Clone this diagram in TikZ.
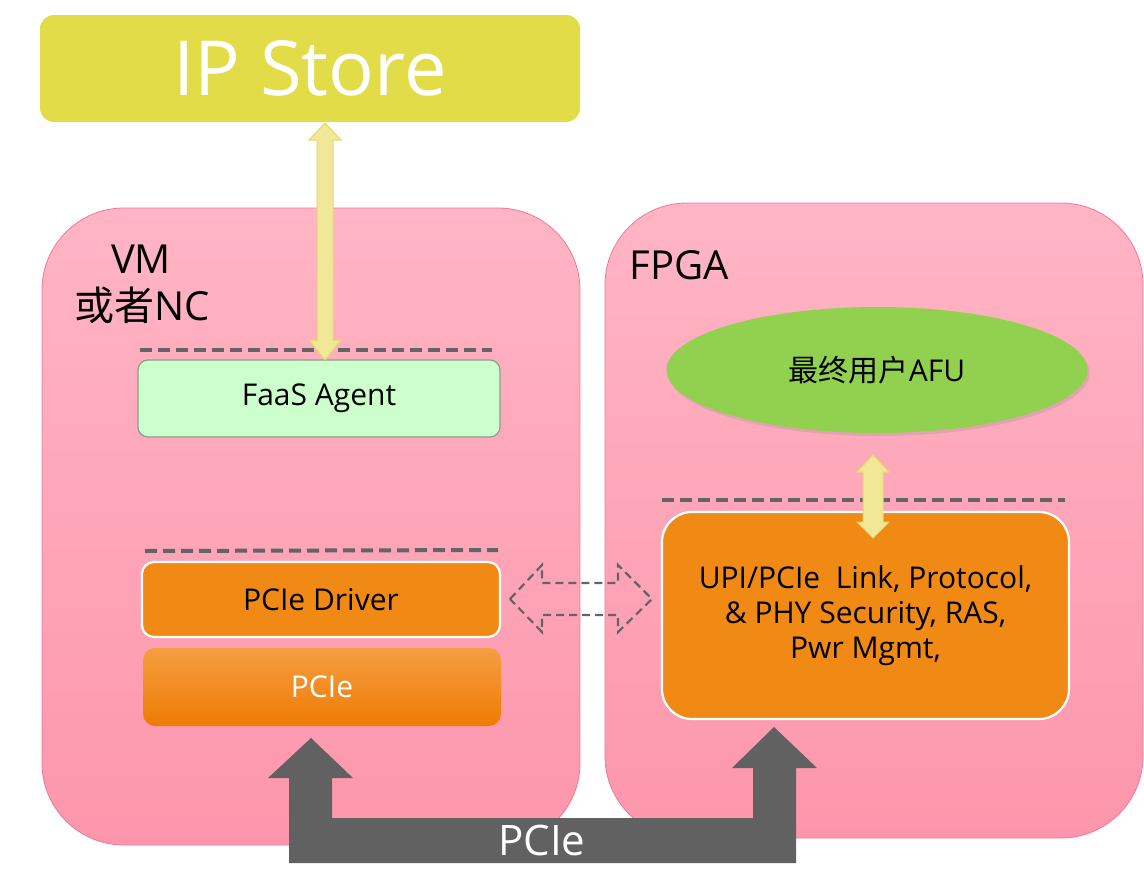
\documentclass[tikz,border=0pt]{standalone}
\usepackage{fontspec}
\setmainfont{Open Sans}
\newfontfamily\cjk{Noto Sans CJK SC}
\usetikzlibrary{shadows,shapes.geometric}
\definecolor{pinkT}{RGB}{255,181,197}
\definecolor{pinkB}{RGB}{253,150,172}
\definecolor{pinkE}{RGB}{240,120,150}
\definecolor{ipyel}{RGB}{226,220,72}
\definecolor{arryel}{RGB}{240,232,150}
\definecolor{arryelE}{RGB}{230,216,110}
\definecolor{orng}{RGB}{240,138,21}
\definecolor{orngT}{RGB}{246,158,66}
\definecolor{orngB}{RGB}{238,124,4}
\definecolor{mint}{RGB}{204,255,204}
\definecolor{mintE}{RGB}{140,156,140}
\definecolor{lgreen}{RGB}{146,208,80}
\definecolor{dgray}{RGB}{97,97,97}
\definecolor{dashgray}{RGB}{100,100,100}
\begin{document}
\begin{tikzpicture}[x=1pt,y=-1pt,
  box/.style={rectangle,inner sep=0pt,outer sep=0pt},
  pinkbox/.style={box,rounded corners=82pt,top color=pinkT,bottom color=pinkB,draw=pinkE,line width=0.8pt},
  orangebox/.style={box,fill=orng,draw=white,line width=2.2pt},
  sepline/.style={draw=dashgray,line width=4pt,dash pattern=on 12pt off 6pt},
  fatarrow/.style={fill=arryel,draw=arryelE,line width=1pt},
  hollowarrow/.style={draw=dashgray,line width=2.2pt,dash pattern=on 8pt off 5pt,line join=miter},
  label/.style={font=\fontsize{40}{48}\selectfont,text=black},
  boxtext/.style={font=\fontsize{30}{35}\selectfont}
]
\useasboundingbox (0,0) rectangle (1144,892);
\fill[white] (0,0) rectangle (1144,892);

% IP store
\node[box,rounded corners=14pt,fill=ipyel,minimum width=540pt,minimum height=107pt,
      text=white,font=\fontsize{76}{90}\selectfont] (ip) at (310,68.5) {IP Store};

% pink containers
\node[pinkbox,minimum width=538pt,minimum height=637pt] (vm) at (311,526.5) {};
\node[pinkbox,minimum width=538pt,minimum height=635pt] (fpga) at (874,520.5) {};

% titles
\node[label,anchor=base] (vmt) at (141,273) {VM};
\node[label,anchor=base] (nct) at (142,320) {{\cjk 或者}NC};
\node[label,anchor=base west] (fpgat) at (626,279) {FPGA};

% separators
\coordinate (s1a) at (140,350); \coordinate (s1b) at (492,350);
\coordinate (s2a) at (145,551); \coordinate (s2b) at (498,550);
\coordinate (s3a) at (662,500); \coordinate (s3b) at (1065,500);
\draw[sepline] (s1a) -- (s1b);
\draw[sepline] (s2a) -- (s2b);
\draw[sepline] (s3a) -- (s3b);

% left stack
\node[box,rounded corners=10pt,fill=mint,draw=mintE,line width=1.2pt,
      minimum width=362pt,minimum height=77pt,boxtext] (faas) at (319,398.5) {FaaS Agent};
\node[orangebox,rounded corners=12pt,minimum width=358pt,minimum height=75pt,
      boxtext] (drv) at (321,599.5) {PCIe Driver};
\node[box,rounded corners=12pt,top color=orngT,bottom color=orngB,
      minimum width=358pt,minimum height=78pt,text=white,boxtext] (pcie) at (322,687) {PCIe};

% right stack
\node[ellipse,inner sep=0pt,fill=lgreen,minimum width=421pt,minimum height=126pt,
      drop shadow={opacity=0.2,shadow xshift=2pt,shadow yshift=-3pt},
      boxtext] (afu) at (877,370) {{\cjk 最终用户}AFU};
\node[orangebox,rounded corners=30pt,minimum width=407pt,minimum height=207pt,
      align=center,boxtext] (upi) at (865.5,615.5)
      {UPI/PCIe\ \ Link, Protocol,\\ \& PHY Security, RAS,\\ Pwr Mgmt,};

% yellow double arrow IP store <-> FaaS agent
\path[fatarrow] (325,123) -- (341,140) -- (333,140) -- (333,340) -- (341,340) -- (325,360)
  -- (309,340) -- (317,340) -- (317,140) -- (309,140) -- cycle;
% yellow double arrow AFU <-> UPI
\path[fatarrow] (873,455) -- (889,472) -- (883,472) -- (883,522) -- (889,522) -- (873,538)
  -- (857,522) -- (863,522) -- (863,472) -- (857,472) -- cycle;

% hollow dashed double arrow driver <-> upi
\draw[hollowarrow] (510,599) -- (542,565) -- (542,583) -- (618,583) -- (618,565) -- (652,599)
  -- (618,632) -- (618,615) -- (542,615) -- (542,632) -- cycle;

% bottom PCIe bus arrow
\fill[dgray] (289,863) -- (289,778) -- (268,778) -- (311,738) -- (353,778) -- (332,778)
  -- (332,818) -- (753,818) -- (753,768) -- (732,768) -- (774,727) -- (817,768) -- (796,768)
  -- (796,863) -- cycle;
\node[text=white,font=\fontsize{42}{50}\selectfont] (bus) at (542,840) {PCIe};
\end{tikzpicture}
\end{document}
